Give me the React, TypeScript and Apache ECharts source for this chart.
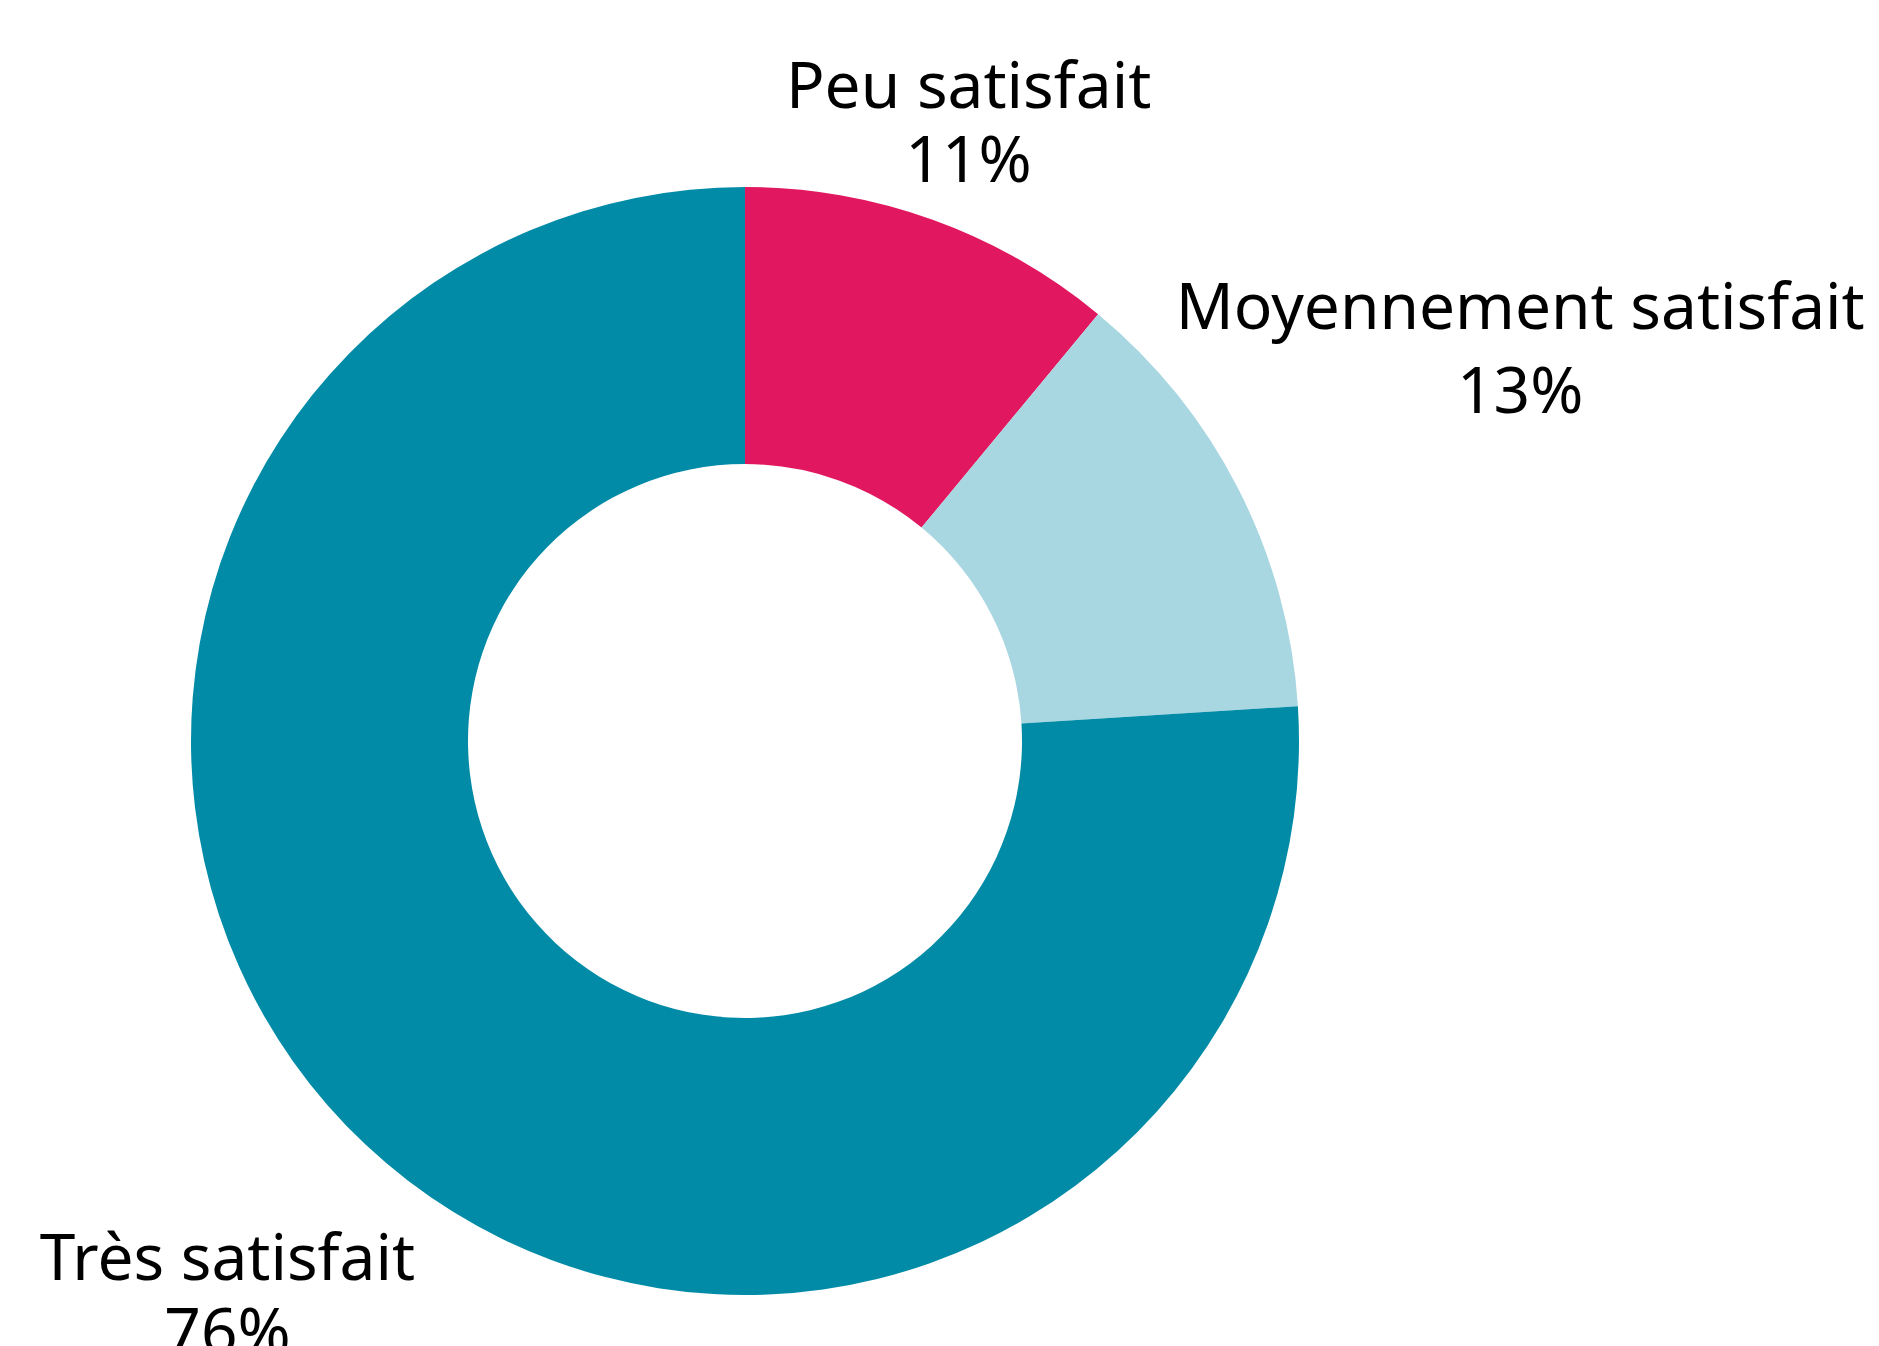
import React, { useEffect, useRef } from "react";
import * as echarts from "echarts";

const categories = ["Peu satisfait", "Moyennement satisfait", "Très satisfait"];
const values = [11, 13, 76];
const colors = ["#E1185F", "#A9D7E1", "#028BA6"];

// layout constants
const CENTER = [745, 741];
const RADIUS = [277, 554];
const LABEL_DIST = [660, 870, 756];
const LABEL_LINE_HEIGHT = [74, 84, 74];

export default function App() {
  const ref = useRef<HTMLDivElement>(null);
  useEffect(() => {
    if (!ref.current) return;
    const chart = echarts.init(ref.current, null, { renderer: "svg" });
    const total = values.reduce((a, b) => a + b, 0);
    const mids: number[] = [];
    let acc = 0;
    values.forEach((v) => {
      mids.push(((acc + v / 2) / total) * Math.PI * 2);
      acc += v;
    });
    chart.setOption({
      animation: false,
      backgroundColor: "#ffffff",
      series: [
        {
          type: "pie",
          center: CENTER,
          radius: RADIUS,
          startAngle: 90,
          clockwise: true,
          avoidLabelOverlap: false,
          data: categories.map((c, i) => ({
            name: c,
            value: values[i],
            itemStyle: { color: colors[i] },
            label: { lineHeight: LABEL_LINE_HEIGHT[i] },
          })),
          label: {
            show: true,
            position: "outside",
            formatter: (p: any) => `${p.name}\n${p.value}%`,
            fontFamily: "Noto Sans",
            fontSize: 64,
            lineHeight: 76,
            color: "#000000",
            align: "center",
          },
          labelLine: { show: false },
          emphasis: { disabled: true },
          labelLayout: (params: any) => {
            const i = params.dataIndex;
            const a = mids[i];
            const r = LABEL_DIST[i];
            return {
              x: CENTER[0] + r * Math.sin(a),
              y: CENTER[1] - r * Math.cos(a),
              align: "center",
              verticalAlign: "middle",
            };
          },
        },
      ],
    });
    return () => chart.dispose();
  }, []);
  return (
    <div
      ref={ref}
      style={{ position: "fixed", left: 0, top: 0, width: 1879, height: 1346 }}
    />
  );
}
